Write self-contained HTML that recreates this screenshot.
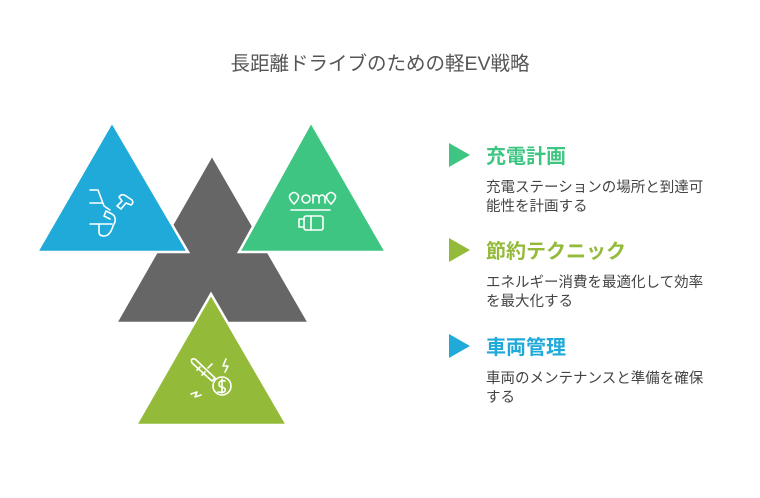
<!DOCTYPE html>
<html><head><meta charset="utf-8"><style>
body{margin:0;width:760px;height:498px;background:#fff;overflow:hidden;font-family:"Liberation Sans","Noto Sans CJK JP",sans-serif;}
.t{position:absolute;white-space:nowrap}
.h{font-size:20px;font-weight:bold}
.b{font-size:14.5px;line-height:19px;color:#444}
</style></head><body>
<div class="t" style="left:0;width:760px;top:47px;text-align:center;font-size:19.5px;color:#555">長距離ドライブのための軽EV戦略</div>
<svg width="760" height="498" style="position:absolute;left:0;top:0">
<g stroke="#fff" stroke-width="2.5" stroke-linejoin="miter">
<polygon points="212,155 309,323 116,323" fill="#666"/>
<polygon points="112,122 188,252 37,252" fill="#1faad9"/>
<polygon points="311,122 386,252 239,252" fill="#3ec582"/>
<polygon points="211,294 287,425 136,425" fill="#93ba38"/>
</g>
<g fill="none" stroke="#fff" stroke-width="1.6" stroke-linecap="round" stroke-linejoin="round">
<path d="M90,190 H98 L104,206 L110,210"/><path d="M90,203 H102"/><path d="M90,224 H112"/>
<path d="M99,224 V232 Q99,236 104,236 Q110,236 113,226 L115,222 Q116,216 112,214 L106,211 L104,216 L110,219"/>
<path d="M117,206 L122,201 L119,197 Q122,193 126,196 L132,200 Q134,203 131,205 L126,203 L121,209 Z"/>
<path d="M294,204 Q288,198 290,195 Q294,190 298,195 Q300,198 294,204 Z"/>
<path d="M331,204 Q325,198 327,195 Q331,190 335,195 Q337,198 331,204 Z"/>
<circle cx="306" cy="199" r="4"/><path d="M313,203 V195 M313,197 Q316,193 319,197 V203 M319,197 Q322,193 325,197 V203"/>
<path d="M291,210 H330"/>
<rect x="304" y="216" width="19" height="14" rx="2"/><path d="M304,219 H299 V227 H304 M311,216 V230"/>
<circle cx="222" cy="386" r="9"/><path d="M225,381 Q219,380 219,384 Q219,387 222,387 Q226,388 225,391 Q224,393 218,392 M222,379 V393"/>
<path d="M192,363 Q190,358 195,359 L215,378 L212,381 Z M200,367 L197,370 M205,372 L202,375 M208,368 L212,364"/>
<path d="M226,359 L223,366 L228,366 L225,372"/>
<path d="M191,394 L197,392 L195,397 L201,395"/>
</g>
<polygon points="449,143 470,155 449,167" fill="#3ec582"/>
<polygon points="449,238 470,250 449,262" fill="#93ba38"/>
<polygon points="449,334 470,346 449,358" fill="#1faad9"/>
</svg>
<div class="t h" style="left:486px;top:140px;color:#3ec582">充電計画</div>
<div class="t b" style="left:486px;top:179px">充電ステーションの場所と到達可<br>能性を計画する</div>
<div class="t h" style="left:486px;top:235px;color:#93ba38">節約テクニック</div>
<div class="t b" style="left:486px;top:274px">エネルギー消費を最適化して効率<br>を最大化する</div>
<div class="t h" style="left:486px;top:331px;color:#1faad9">車両管理</div>
<div class="t b" style="left:486px;top:370px">車両のメンテナンスと準備を確保<br>する</div>
</body></html>
